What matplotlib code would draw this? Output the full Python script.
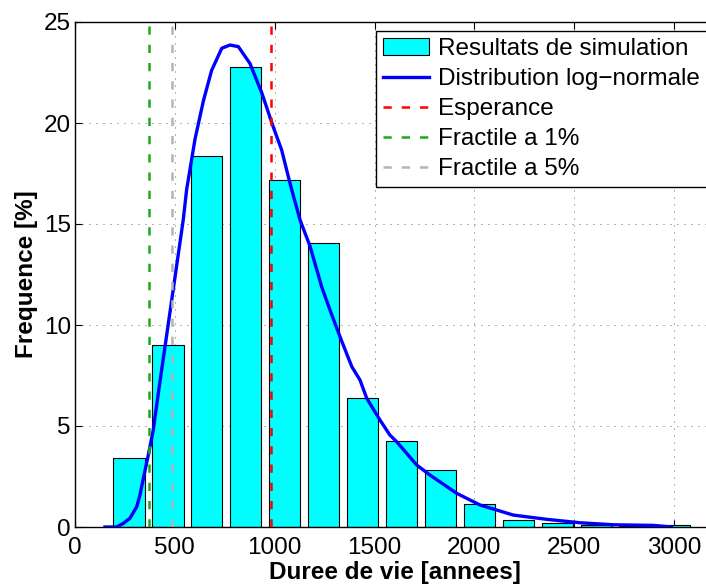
import matplotlib
matplotlib.use("Agg")
import matplotlib.pyplot as plt
import numpy as np

plt.rcParams["font.family"] = ["Liberation Sans", "DejaVu Sans"]

# Histogram of simulated lifetimes (bin centres in years, frequency in %)
bin_centres = [270, 465, 660, 855, 1050, 1245, 1440, 1635, 1830, 2025,
               2220, 2415, 2610, 2805, 3000]
frequences = [3.40, 9.00, 18.35, 22.75, 17.20, 14.05, 6.37, 4.26, 2.81, 1.12,
              0.33, 0.18, 0.08, 0.05, 0.12]

# Fitted log-normal density
curve_x = [150, 209, 242, 275, 309, 325, 367, 392, 401, 422, 446, 470, 494,
           542, 559, 601, 643, 684, 735, 776, 818, 876, 935, 993, 1035, 1077,
           1127, 1177, 1235, 1277, 1327, 1386, 1427, 1461, 1527, 1577, 1611,
           1711, 1778, 1911, 2028, 2195, 2362, 2529, 2696, 2896, 2988]
curve_y = [0.0, 0.0, 0.18, 0.43, 1.0, 1.58, 3.56, 4.8, 5.46, 6.95, 8.6,
           10.25, 11.9, 15.2, 16.7, 19.2, 21.1, 22.6, 23.7, 23.86, 23.78,
           22.95, 21.5, 19.8, 18.66, 17.0, 15.2, 13.9, 11.9, 10.74, 9.42,
           7.94, 7.28, 6.37, 5.3, 4.55, 4.22, 3.07, 2.57, 1.67, 1.09, 0.59,
           0.38, 0.21, 0.11, 0.08, 0.0]

esperance = 981
fractile_1 = 369
fractile_5 = 484

FS = 17.5

fig = plt.figure(figsize=(7.06, 5.84), dpi=100)
ax = fig.add_axes([75 / 706, 57 / 584, 639 / 706, 505 / 584])

h_bar = ax.bar(bin_centres, frequences, width=157, color="#00ffff",
               edgecolor="black", linewidth=0.8, zorder=2)
h_curve, = ax.plot(curve_x, curve_y, color="#0000ff", linewidth=2.4, zorder=3)

dash = dict(linewidth=1.8, dashes=(3.3, 4.0), zorder=4)
h_esp, = ax.plot([esperance, esperance], [0, 25], color="#ff0000", **dash)
h_f1, = ax.plot([fractile_1, fractile_1], [0, 25], color="#1aab1a", **dash)
h_f5, = ax.plot([fractile_5, fractile_5], [0, 25], color="#b4b4b4", **dash)

ax.set_xlim(0, 3200)
ax.set_ylim(0, 25)
ax.set_xticks(np.arange(0, 3001, 500))
ax.set_yticks(np.arange(0, 26, 5))
ax.tick_params(direction="in", top=True, right=True, length=5, width=0.8,
               labelsize=FS)
ax.tick_params(axis="x", pad=7)
ax.tick_params(axis="y", pad=3)
ax.grid(True, color="0.3", linewidth=0.6, linestyle=(0, (1.2, 7.2)))
ax.set_axisbelow(True)
for s in ax.spines.values():
    s.set_linewidth(1.0)

ax.set_xlabel("Duree de vie [annees]", fontsize=FS, fontweight="bold",
              labelpad=1.5)
ax.set_ylabel("Frequence [%]", fontsize=FS, fontweight="bold", labelpad=4)

leg = ax.legend([h_bar, h_curve, h_esp, h_f1, h_f5],
                ["Resultats de simulation", "Distribution log\u2212normale",
                 "Esperance", "Fractile a 1%", "Fractile a 5%"],
                loc="upper left", bbox_to_anchor=(0.4706, 0.9828),
                borderaxespad=0, fontsize=FS, fancybox=False,
                edgecolor="black", framealpha=1, labelspacing=0.33,
                handlelength=1.9, handletextpad=0.35, borderpad=0.3)
leg.get_frame().set_linewidth(1.0)

fig.savefig("out.png", dpi=100)
